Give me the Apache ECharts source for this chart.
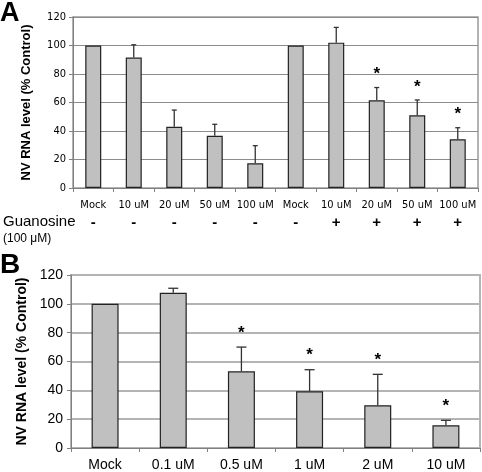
<!DOCTYPE html>
<html><head><meta charset="utf-8">
<script src="https://cdn.jsdelivr.net/npm/echarts@6/dist/echarts.min.js"></script>
<style>html,body{margin:0;padding:0;background:#fff}#c{width:482px;height:472px}</style>
</head><body><div id="c"></div>
<script>
const catsA = ['Mock','10 uM','20 uM','50 uM','100 uM','Mock','10 uM','20 uM','50 uM','100 uM'];
const guanA = ['-','-','-','-','-','-','+','+','+','+'];
const valsA = [100, 91.5, 43, 36.7, 17.3, 100, 102, 61.5, 51, 34.2];
const errA  = [0, 9, 11.7, 8, 12.4, 0, 10.7, 9, 10.8, 8.1];
const sigA  = [0,0,0,0,0,0,0,1,1,1];
const ticksA = [0,20,40,60,80,100,120];

const catsB = ['Mock','0.1 uM','0.5 uM','1 uM','2 uM','10 uM'];
const valsB = [100, 107.7, 53.2, 39.4, 29.7, 15.8];
const errB  = [0, 3.1, 16.8, 14.9, 21.4, 3.4];
const sigB  = [0,0,1,1,1,1];
const ticksB = [0,20,40,60,80,100,120];

const chart = echarts.init(document.getElementById('c'), null, {renderer:'canvas'});
const narrow = '"Liberation Sans Narrow", "DejaVu Sans Condensed", "Liberation Sans", sans-serif';
const sans = '"Liberation Sans", Arial, sans-serif';

function errSeries(idx, vals, errs, sig, cap, starGap) {
  return {
    type: 'custom', xAxisIndex: idx, yAxisIndex: idx, z: 5,
    data: vals.map((v,i)=>[i, v, errs[i], sig[i]]),
    renderItem: function(params, api) {
      const i = api.value(0), v = api.value(1), e = api.value(2), s = api.value(3);
      const base = api.coord([i, v]);
      const top = api.coord([i, v + e]);
      const children = [];
      if (e > 0) {
        children.push({type:'line', shape:{x1:base[0], y1:base[1], x2:top[0], y2:top[1]}, style:{stroke:'#333', lineWidth:1.3}});
        children.push({type:'line', shape:{x1:top[0]-cap, y1:top[1], x2:top[0]+cap, y2:top[1]}, style:{stroke:'#333', lineWidth:1.3}});
      }
      if (s) {
        children.push({type:'text', style:{text:'*', x:top[0], y:top[1]-starGap, align:'center', verticalAlign:'middle', font:'bold 17px ' + sans, fill:'#000'}});
      }
      return {type:'group', children};
    }
  };
}

chart.setOption({
  animation: false,
  graphic: [
    {type:'text', left:0, top:0, style:{text:'A', font:'bold 27px ' + sans, fill:'#000'}},
    {type:'text', left:0, top:251, style:{text:'B', font:'bold 28px ' + sans, fill:'#000'}},
    {type:'text', left:3, top:214, style:{text:'Guanosine', font:'15px ' + sans, fill:'#000'}},
    {type:'text', left:3, top:233, style:{text:'(100 \u03bcM)', font:'12px ' + sans, fill:'#000'}}
  ],
  grid: [
    {left:73, right:4, top:17, height:171, show:true, borderColor:'#9a9a9a', borderWidth:1.5, backgroundColor:'transparent'},
    {left:71, right:2, top:275, height:178, show:true, borderColor:'#b4b4b4', borderWidth:2, backgroundColor:'transparent'}
  ],
  xAxis: [
    {type:'category', gridIndex:0, data:catsA,
     axisLine:{lineStyle:{color:'#808080', width:1}},
     axisTick:{show:true, length:4, lineStyle:{color:'#808080'}},
     axisLabel:{interval:0, margin:9,
       formatter: (v, i) => '{c|' + v + '}\n{s|' + guanA[i] + '}',
       rich:{c:{fontSize:11, fontFamily:narrow, color:'#000', lineHeight:17},
             s:{fontSize:15, fontWeight:'bold', fontFamily:sans, color:'#000', lineHeight:17}}}},
    {type:'category', gridIndex:1, data:catsB,
     axisLine:{lineStyle:{color:'#808080', width:1}},
     axisTick:{show:true, length:4, lineStyle:{color:'#808080'}},
     axisLabel:{interval:0, margin:10, fontSize:14, fontFamily:sans, color:'#000'}}
  ],
  yAxis: [
    {type:'value', gridIndex:0, min:0, max:120, interval:20,
     name:'NV RNA level (% Control)', nameLocation:'middle', nameGap:40,
     nameTextStyle:{fontWeight:'bold', fontSize:13, fontFamily:sans, color:'#000'},
     axisLine:{show:true, lineStyle:{color:'#808080', width:1}},
     axisTick:{show:true, length:4, lineStyle:{color:'#808080'}},
     axisLabel:{margin:7, fontSize:11, fontFamily:narrow, color:'#000', formatter:(v)=> ticksA.includes(v)? String(v) : ''},
     splitLine:{show:true, lineStyle:{color:'#8c8c8c', width:1.2}}},
    {type:'value', gridIndex:1, min:0, max:120, interval:20,
     name:'NV RNA level (% Control)', nameLocation:'middle', nameGap:37,
     nameTextStyle:{fontWeight:'bold', fontSize:14, fontFamily:sans, color:'#000'},
     axisLine:{show:true, lineStyle:{color:'#808080', width:1}},
     axisTick:{show:true, length:4, lineStyle:{color:'#808080'}},
     axisLabel:{margin:8, fontSize:14, fontFamily:sans, color:'#000', formatter:(v)=> ticksB.includes(v)? String(v) : ''},
     splitLine:{show:true, lineStyle:{color:'#b4b4b4', width:2}}}
  ],
  series: [
    {type:'bar', xAxisIndex:0, yAxisIndex:0, data:valsA, barWidth:16,
     itemStyle:{color:'#c0c0c0', borderColor:'#222', borderWidth:1.2}},
    errSeries(0, valsA, errA, sigA, 2.5, 13),
    {type:'bar', xAxisIndex:1, yAxisIndex:1, data:valsB, barWidth:27,
     itemStyle:{color:'#c0c0c0', borderColor:'#222', borderWidth:1.2}},
    errSeries(1, valsB, errB, sigB, 5, 14)
  ]
});
</script></body></html>
